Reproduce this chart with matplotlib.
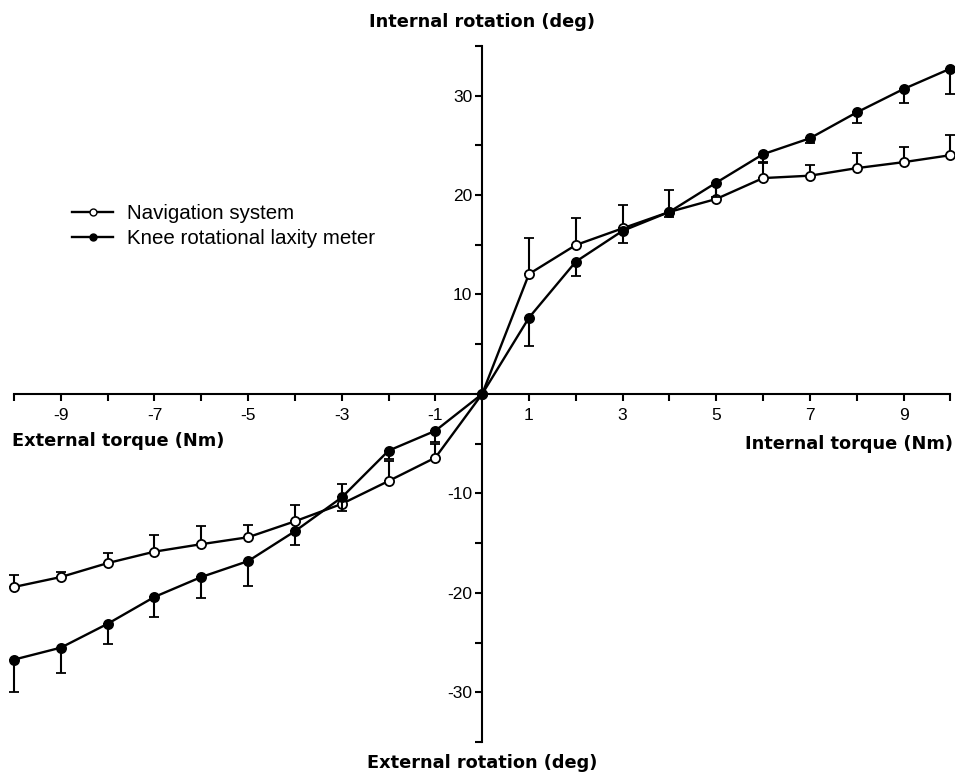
import matplotlib
matplotlib.use("Agg")
import matplotlib.pyplot as plt
from matplotlib.lines import Line2D
import numpy as np

plt.rcParams['font.family'] = ['Liberation Sans', 'DejaVu Sans']

torque = [-10, -9, -8, -7, -6, -5, -4, -3, -2, -1, 0, 1, 2, 3, 4, 5, 6, 7, 8, 9, 10]

# navigation system (open circles), error bars drawn upward
nav_mean = [-19.4, -18.4, -17.0, -15.85, -15.1, -14.4, -12.8, -11.05, -8.75, -6.4, 0,
            12.06, 14.97, 16.65, 18.3, 19.6, 21.7, 21.94, 22.7, 23.3, 24.0]
nav_sd = [1.2, 0.5, 1.0, 1.65, 1.8, 1.2, 1.6, 1.95, 2.0, 1.4, 0,
          3.6, 2.7, 2.35, 2.2, 1.5, 1.65, 1.05, 1.5, 1.55, 2.0]

# knee rotational laxity meter (filled circles), error bars drawn downward
krl_mean = [-26.7, -25.5, -23.1, -20.4, -18.4, -16.8, -13.8, -10.4, -5.7, -3.7, 0,
            7.67, 13.3, 16.4, 18.3, 21.24, 24.1, 25.7, 28.3, 30.65, 32.7]
krl_sd = [3.3, 2.5, 2.0, 2.0, 2.1, 2.5, 1.4, 1.4, 0.8, 1.15, 0,
          2.85, 1.45, 1.2, 0.55, 1.4, 0.9, 0.5, 1.1, 1.45, 2.5]

fig = plt.figure(figsize=(9.55, 7.74), dpi=100)
ax = fig.add_axes([0, 0, 1, 1])
ax.set_xlim(-10.3, 10.1)
ax.set_ylim(-38.2, 39.6)

zeros = np.zeros(len(torque))
ax.errorbar(torque, nav_mean, yerr=[zeros, nav_sd], color='black', lw=1.7,
            elinewidth=1.5, capsize=3.5, capthick=1.5, marker='o', ms=6.6,
            mfc='white', mec='black', mew=1.3, zorder=3, clip_on=False)
ax.errorbar(torque, krl_mean, yerr=[krl_sd, zeros], color='black', lw=1.7,
            elinewidth=1.5, capsize=3.5, capthick=1.5, marker='o', ms=6.6,
            mfc='black', mec='black', mew=1.3, zorder=4, clip_on=False)

for s in ['top', 'right']:
    ax.spines[s].set_visible(False)
ax.spines['left'].set_position(('data', 0))
ax.spines['bottom'].set_position(('data', 0))
ax.spines['left'].set_bounds(-35, 35)
ax.spines['bottom'].set_bounds(-10, 10)
ax.spines['left'].set_linewidth(1.5)
ax.spines['bottom'].set_linewidth(1.5)

xt = list(range(-10, 11))
ax.set_xticks(xt)
ax.set_xticklabels([str(v) if v % 2 else '' for v in xt])
yt = list(range(-35, 36, 5))
ax.set_yticks(yt)
ax.set_yticklabels([str(v) if (v % 10 == 0 and v != 0) else '' for v in yt])
ax.tick_params(direction='out', length=5, width=1.5, labelsize=12.5, pad=2)
ax.tick_params(axis='x', pad=5)

lab = dict(fontsize=12.8, fontweight='bold', family='DejaVu Sans')
ax.text(-10.05, -4.7, 'External torque (Nm)', ha='left', va='center', **lab)
ax.text(10.05, -5.0, 'Internal torque (Nm)', ha='right', va='center', **lab)
ax.text(0, 37.4, 'Internal rotation (deg)', ha='center', va='center', **lab)
ax.text(0, -37.1, 'External rotation (deg)', ha='center', va='center', **lab)

handles = [
    Line2D([], [], color='black', lw=1.7, marker='o', ms=5, mfc='white', mec='black'),
    Line2D([], [], color='black', lw=1.7, marker='o', ms=5, mfc='black', mec='black'),
]
ax.legend(handles, ['Navigation system', 'Knee rotational laxity meter'],
          loc='upper left', bbox_to_anchor=(0.056, 0.76), frameon=False,
          fontsize=14.8, handlelength=2.0, handletextpad=0.7, labelspacing=0.3)

fig.savefig('out.png', dpi=100)
